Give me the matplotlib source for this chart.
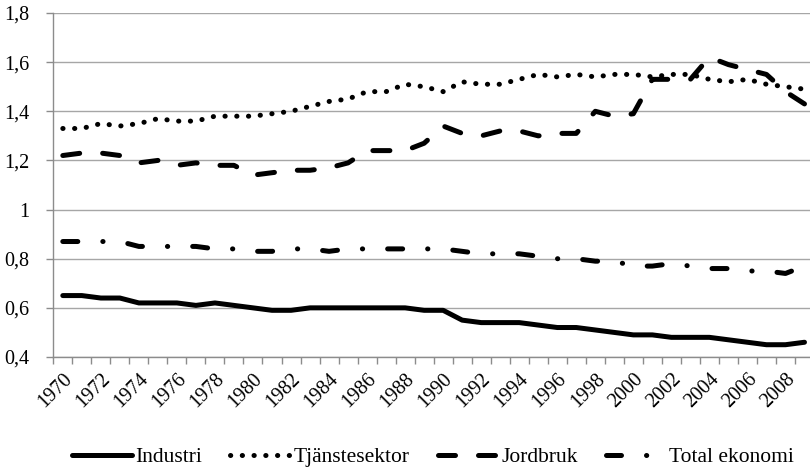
import matplotlib
matplotlib.use("Agg")
import matplotlib.pyplot as plt
from matplotlib.ticker import FixedLocator, FuncFormatter, MultipleLocator

years = list(range(1970, 2010))
industri = [0.65, 0.65, 0.64, 0.64, 0.62, 0.62, 0.62, 0.61, 0.62, 0.61,
            0.60, 0.59, 0.59, 0.60, 0.60, 0.60, 0.60, 0.60, 0.60, 0.59,
            0.59, 0.55, 0.54, 0.54, 0.54, 0.53, 0.52, 0.52, 0.51, 0.50,
            0.49, 0.49, 0.48, 0.48, 0.48, 0.47, 0.46, 0.45, 0.45, 0.46]
tjanst = [1.33, 1.33, 1.35, 1.34, 1.35, 1.37, 1.36, 1.36, 1.38, 1.38,
          1.38, 1.39, 1.40, 1.42, 1.44, 1.45, 1.48, 1.48, 1.51, 1.50,
          1.48, 1.52, 1.51, 1.51, 1.53, 1.55, 1.54, 1.55, 1.54, 1.55,
          1.55, 1.54, 1.55, 1.55, 1.53, 1.52, 1.53, 1.51, 1.50, 1.49]
jordbruk = [1.22, 1.23, 1.23, 1.22, 1.19, 1.20, 1.18, 1.19, 1.18, 1.18,
            1.14, 1.15, 1.16, 1.16, 1.17, 1.19, 1.24, 1.24, 1.24, 1.27,
            1.34, 1.31, 1.30, 1.32, 1.32, 1.30, 1.31, 1.31, 1.40, 1.38,
            1.39, 1.53, 1.53, 1.53, 1.62, 1.59, 1.57, 1.55, 1.48, 1.43]
total = [0.87, 0.87, 0.87, 0.87, 0.85, 0.85, 0.85, 0.85, 0.84, 0.84,
         0.83, 0.83, 0.84, 0.84, 0.83, 0.84, 0.84, 0.84, 0.84, 0.84,
         0.84, 0.83, 0.82, 0.82, 0.82, 0.81, 0.80, 0.80, 0.79, 0.79,
         0.77, 0.77, 0.78, 0.77, 0.76, 0.76, 0.75, 0.75, 0.74, 0.77]
series_names = ["Industri", "Tjänstesektor", "Jordbruk", "Total ekonomi"]

plt.rcParams['font.family'] = ['Liberation Serif', 'DejaVu Serif']
plt.rcParams['font.size'] = 14.5

fig = plt.figure(figsize=(8.10, 4.72), dpi=100)
ax = fig.add_axes([53.3 / 810, 1 - 357 / 472, (814 - 53.3) / 810, (357 - 13) / 472])

x = list(range(len(years)))
lw = 3.6
ax.plot(x, industri, color='black', lw=lw, solid_capstyle='round',
        solid_joinstyle='round', label=series_names[0])
ax.plot(x, tjanst, color='black', lw=lw, linestyle=(0, (0.05, 2.3)),
        dash_capstyle='round', label=series_names[1])
ax.plot(x, jordbruk, color='black', lw=lw, linestyle=(0, (3.4, 4.6)),
        dash_capstyle='round', label=series_names[2])
ax.plot(x, total, color='black', lw=lw, linestyle=(0, (3.0, 5.0, 0.05, 5.0)),
        dash_capstyle='round', label=series_names[3])

ax.set_xlim(-0.5, len(years) - 0.5)
ax.set_ylim(0.4, 1.8)
ax.yaxis.set_major_locator(MultipleLocator(0.2))
ax.yaxis.set_major_formatter(FuncFormatter(
    lambda v, p: ('%g' % round(v, 1)).replace('.', ',')))

major = [i for i in x if years[i] % 2 == 0]
ax.xaxis.set_major_locator(FixedLocator(major))
ax.set_xticklabels([str(years[i]) for i in major], rotation=45,
                   ha='right', va='top', rotation_mode='anchor')
ax.xaxis.set_minor_locator(FixedLocator([i - 0.5 for i in range(len(years) + 1)]))
ax.tick_params(axis='x', which='major', length=0, pad=9)
ax.tick_params(axis='x', which='minor', length=5, color='#8c8c8c', width=1)
ax.tick_params(axis='y', length=5, color='#8c8c8c', width=1, pad=12)

ax.grid(axis='y', color='#a6a6a6', lw=1)
ax.set_axisbelow(True)
for s in ['top', 'right']:
    ax.spines[s].set_visible(False)
for s in ['left', 'bottom']:
    ax.spines[s].set_color('#8c8c8c')
    ax.spines[s].set_linewidth(1)

fig.legend(loc='center', bbox_to_anchor=(433 / 810, 1 - 457 / 472), ncol=4,
           frameon=False, fontsize=15.5, handlelength=2.8, handletextpad=0.15,
           columnspacing=1.3, borderpad=0)

fig.savefig('out.png', dpi=100)
